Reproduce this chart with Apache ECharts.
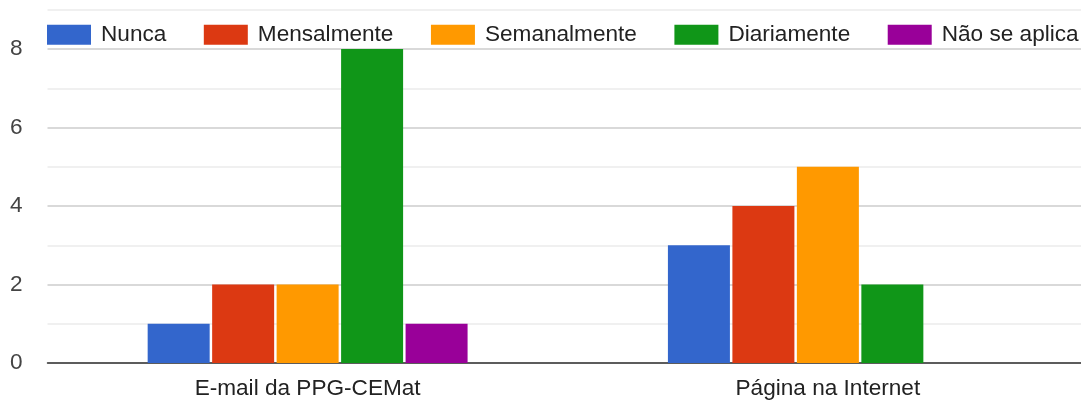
<!DOCTYPE html>
<html>
<head>
<meta charset="utf-8">
<script src="https://cdn.jsdelivr.net/npm/echarts@6/dist/echarts.min.js"></script>
<style>html,body{margin:0;padding:0;background:#fff;overflow:hidden}#c{width:1088px;height:403px}</style>
</head>
<body>
<div id="c"></div>
<script>
const categories = ["E-mail da PPG-CEMat", "Página na Internet"];
const seriesNames = ["Nunca", "Mensalmente", "Semanalmente", "Diariamente", "Não se aplica"];
const nunca = [1, 3];
const mensalmente = [2, 4];
const semanalmente = [2, 5];
const diariamente = [8, 2];
const naoSeAplica = [1, 0];
const colors = ["#3366cc", "#dc3912", "#ff9900", "#109618", "#990099"];
const yTickLabels = ["0", "", "2", "", "4", "", "6", "", "8", ""];

const values = [nunca, mensalmente, semanalmente, diariamente, naoSeAplica];
const chart = echarts.init(document.getElementById('c'), null, {renderer: 'canvas'});
const font = '"Liberation Sans", Arial, sans-serif';
const fs = 22.6;
chart.setOption({
  animation: false,
  color: colors,
  textStyle: {fontFamily: font},
  legend: {
    data: seriesNames,
    left: 47, top: 23.3, padding: 0,
    itemWidth: 44, itemHeight: 20, itemGap: 37.5,
    icon: 'rect',
    textStyle: {fontSize: fs, color: '#222', fontFamily: font, padding: [0, 0, 0, 5]}
  },
  grid: {left: 47.5, top: 9.75, right: 0, height: 353.25, containLabel: false},
  xAxis: {
    type: 'category', data: categories,
    axisTick: {show: false},
    axisLine: {lineStyle: {color: '#333', width: 1.5}},
    axisLabel: {fontSize: fs, color: '#222', margin: 14, fontFamily: font}
  },
  yAxis: {
    type: 'value', min: 0, max: 9, interval: 1,
    axisLine: {show: false}, axisTick: {show: false},
    axisLabel: {fontSize: fs, color: '#444', margin: 25, fontFamily: font,
      formatter: (v) => yTickLabels[v] ?? ''},
    splitLine: {lineStyle: {color: ['#cccccc', '#ebebeb'], width: 1.5}}
  },
  series: seriesNames.map((n, i) => ({
    name: n, type: 'bar', data: values[i],
    barWidth: 62, barGap: '4%'
  }))
});
</script>
</body>
</html>
